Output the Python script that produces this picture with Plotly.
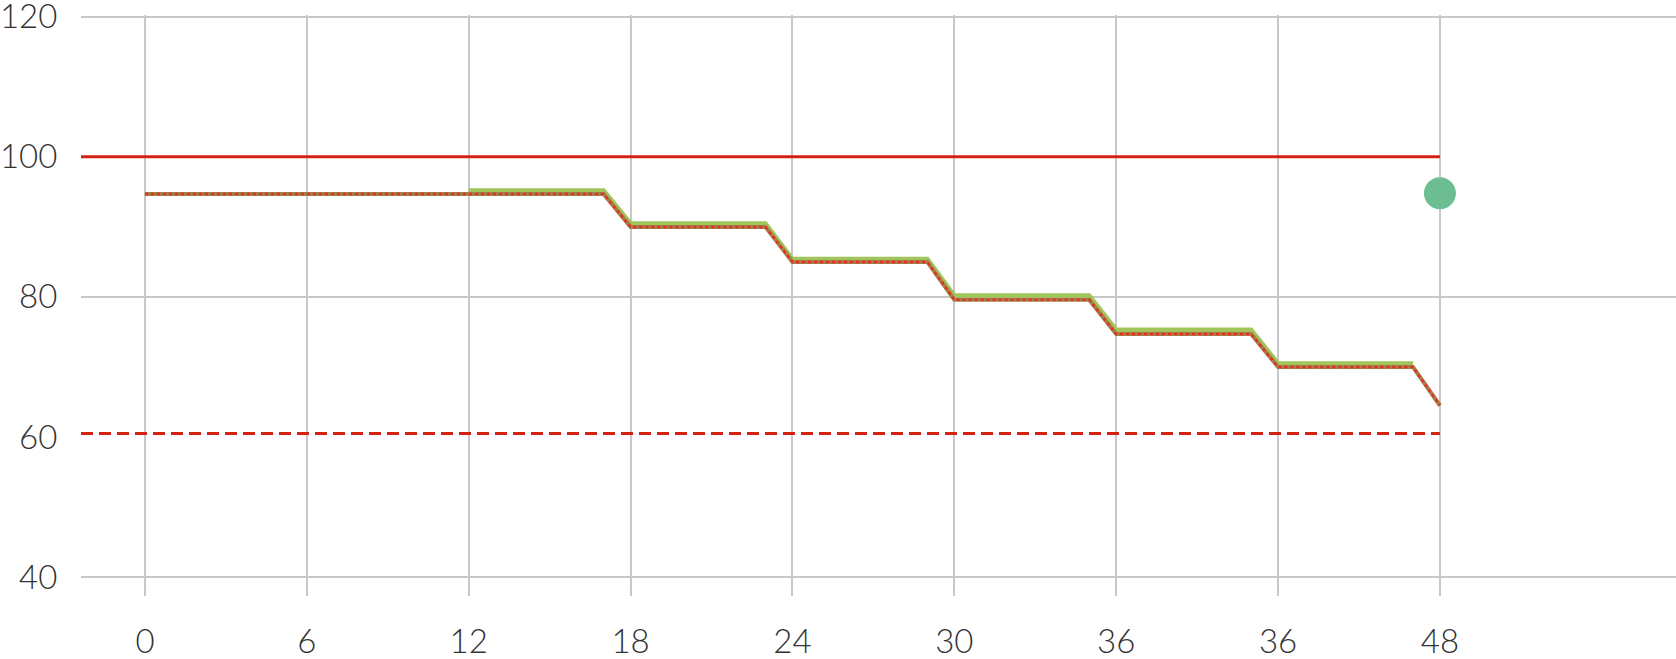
import plotly.graph_objects as go

# ---- data ----
hours = [0, 1, 2, 3, 4, 5, 6, 7, 8, 9, 10, 11, 12, 13, 14, 15, 16, 17,
         18, 19, 20, 21, 22, 23, 24, 25, 26, 27, 28, 29, 30, 31, 32, 33, 34, 35,
         36, 37, 38, 39, 40, 41, 42, 43, 44, 45, 46, 47, 48]
red_values = [94.7, 94.7, 94.7, 94.7, 94.7, 94.7, 94.7, 94.7, 94.7, 94.7, 94.7, 94.7,
              94.7, 94.7, 94.7, 94.7, 94.7, 94.7,
              90.0, 90.0, 90.0, 90.0, 90.0, 90.0,
              85.0, 85.0, 85.0, 85.0, 85.0, 85.0,
              79.6, 79.6, 79.6, 79.6, 79.6, 79.6,
              74.7, 74.7, 74.7, 74.7, 74.7, 74.7,
              70.0, 70.0, 70.0, 70.0, 70.0, 70.0,
              64.5]
green_hours = [12, 13, 14, 15, 16, 17, 18, 19, 20, 21, 22, 23, 24, 25, 26, 27, 28, 29,
               30, 31, 32, 33, 34, 35, 36, 37, 38, 39, 40, 41, 42, 43, 44, 45, 46, 47]
green_values = [95.2, 95.2, 95.2, 95.2, 95.2, 95.2,
                90.5, 90.5, 90.5, 90.5, 90.5, 90.5,
                85.4, 85.4, 85.4, 85.4, 85.4, 85.4,
                80.2, 80.2, 80.2, 80.2, 80.2, 80.2,
                75.3, 75.3, 75.3, 75.3, 75.3, 75.3,
                70.5, 70.5, 70.5, 70.5, 70.5, 70.5]
upper_limit = 100
lower_limit = 60.5
limit_end_hour = 48
point_hour = [48]
point_value = [94.8]
x_tickvals = [0, 6, 12, 18, 24, 30, 36, 42, 48]
x_ticktext = ["0", "6", "12", "18", "24", "30", "36", "36", "48"]
y_tickvals = [40, 60, 80, 100, 120]
y_gridvals = [40, 80, 120]

x_range = [-2.37, 56.75]
y_range = [37.3, 120.25]

font_family = "Lato"
font_size = 33
text_color = "#333333"
grid_color = "#c8c8c8"

fig = go.Figure()

# threshold lines
fig.add_trace(go.Scatter(x=[x_range[0], limit_end_hour], y=[upper_limit, upper_limit],
                         mode="lines", line=dict(color="#d42212", width=3),
                         hoverinfo="skip", showlegend=False))
fig.add_trace(go.Scatter(x=[x_range[0], limit_end_hour], y=[lower_limit, lower_limit],
                         mode="lines", line=dict(color="#d42212", width=3, dash="12px,6px"),
                         hoverinfo="skip", showlegend=False))

# green series
fig.add_trace(go.Scatter(x=green_hours, y=green_values, mode="lines",
                         line=dict(color="#a0c55a", width=4.5),
                         showlegend=False))
# red/brown series (base + dotted overlay)
fig.add_trace(go.Scatter(x=hours, y=red_values, mode="lines",
                         line=dict(color="#a87c4a", width=4),
                         showlegend=False))
fig.add_trace(go.Scatter(x=hours, y=red_values, mode="lines",
                         line=dict(color="#e2321f", width=2.5, dash="dot"),
                         hoverinfo="skip", showlegend=False))

# green point
fig.add_trace(go.Scatter(x=point_hour, y=point_value, mode="markers",
                         marker=dict(color="#6cbe92", size=32, line=dict(width=0)),
                         showlegend=False))

tick_font = dict(family=font_family, size=font_size, color=text_color, weight=300)

fig.update_layout(
    width=1676, height=659,
    margin=dict(l=81, r=0, t=15, b=63),
    paper_bgcolor="white", plot_bgcolor="white",
    font=tick_font,
    showlegend=False,
)
fig.update_xaxes(
    range=x_range, tickmode="array", tickvals=x_tickvals, ticktext=x_ticktext,
    showgrid=True, gridcolor=grid_color, gridwidth=2, zeroline=False,
    showline=False, ticks="outside", ticklen=16, tickcolor="rgba(0,0,0,0)",
    automargin=False, tickfont=tick_font, ticklabeloverflow="allow",
)
fig.update_yaxes(
    range=y_range, tickmode="array", tickvals=y_tickvals,
    showgrid=False, zeroline=False, showline=False,
    ticks="outside", ticklen=16, tickcolor="rgba(0,0,0,0)",
    automargin=False, tickfont=tick_font, ticklabeloverflow="allow",
    minor=dict(tickmode="array", tickvals=y_gridvals, showgrid=True,
               gridcolor=grid_color, gridwidth=2, ticks=""),
)

fig.write_html("out.html", config={"displayModeBar": False},
               post_script="document.body.style.margin='0';document.body.style.overflow='hidden';")
